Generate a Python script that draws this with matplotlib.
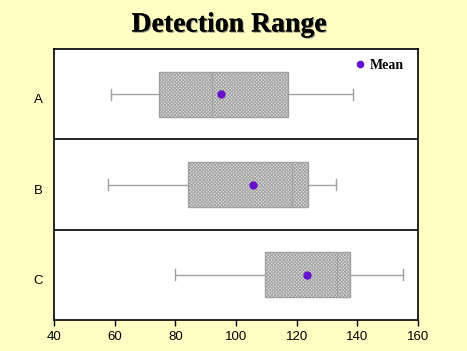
import matplotlib
matplotlib.use("Agg")
import matplotlib.pyplot as plt
import matplotlib.patheffects as pe

categories = ["A", "B", "C"]
whisker_low = [58.8, 57.8, 79.9]
q1 = [74.6, 84.2, 109.6]
median = [92.1, 118.3, 133.2]
q3 = [117.3, 123.9, 137.6]
whisker_high = [138.6, 133.0, 155.1]
means = [95.1, 105.6, 123.4]
xticks = [40, 60, 80, 100, 120, 140, 160]

plt.rcParams['hatch.color'] = '#a4a4a4'
plt.rcParams['hatch.linewidth'] = 0.6

bg = '#FFFFC4'
fig = plt.figure(figsize=(4.67, 3.51), dpi=100, facecolor=bg)
ax = fig.add_axes([54/467, 1-320/351, (418-54)/467, (320-49)/351])
ax.set_facecolor('white')

n = len(categories)
positions = [n - 0.5 - i for i in range(n)]
stats = []
for i, c in enumerate(categories):
    stats.append(dict(label=c, whislo=whisker_low[i], q1=q1[i], med=median[i],
                      q3=q3[i], whishi=whisker_high[i], fliers=[]))

gray = '#A0A0A0'
bp = ax.bxp(stats, positions=positions, vert=False, widths=0.5, patch_artist=True,
            showfliers=False, capwidths=0.12,
            boxprops=dict(facecolor='#dedede', edgecolor=gray, linewidth=1.0, hatch='xxxxxxxxxx'),
            medianprops=dict(color=gray, linewidth=1.0),
            whiskerprops=dict(color=gray, linewidth=1.0),
            capprops=dict(color=gray, linewidth=1.0))

ax.plot(means, positions, 'o', color='#6611CC', markersize=5, linestyle='none', label='Mean')

for y in range(1, n):
    ax.axhline(y, color='black', linewidth=1.2)

ax.set_xlim(40, 160)
ax.set_ylim(0, n)
ax.set_xticks(xticks)
ax.set_xticklabels([str(t) for t in xticks], fontfamily='Liberation Sans', fontsize=9.5)
ax.set_yticks(positions)
ax.set_yticklabels(categories, fontfamily='Liberation Sans', fontsize=9.5, va='top')
ax.tick_params(axis='y', length=0, pad=8)
ax.tick_params(axis='x', length=4, width=1, direction='out', pad=4)
for s in ax.spines.values():
    s.set_linewidth(1.2)

leg = ax.legend(loc='upper right', bbox_to_anchor=(1.0, 1.015), frameon=False,
                handletextpad=0.1, markerscale=0.9,
                prop=dict(family='Liberation Serif', weight='bold', size=10),
                borderaxespad=0.6, handlelength=1.2)

fig.text(229/467, 1-25/351, "Detection Range", ha='center', va='center',
         fontfamily='Liberation Serif', fontweight='bold', fontsize=20,
         path_effects=[pe.withSimplePatchShadow(offset=(0.8, -0.8), shadow_rgbFace='#555555', alpha=0.6), pe.Normal()])

fig.savefig("out.png", dpi=100, facecolor=bg)
